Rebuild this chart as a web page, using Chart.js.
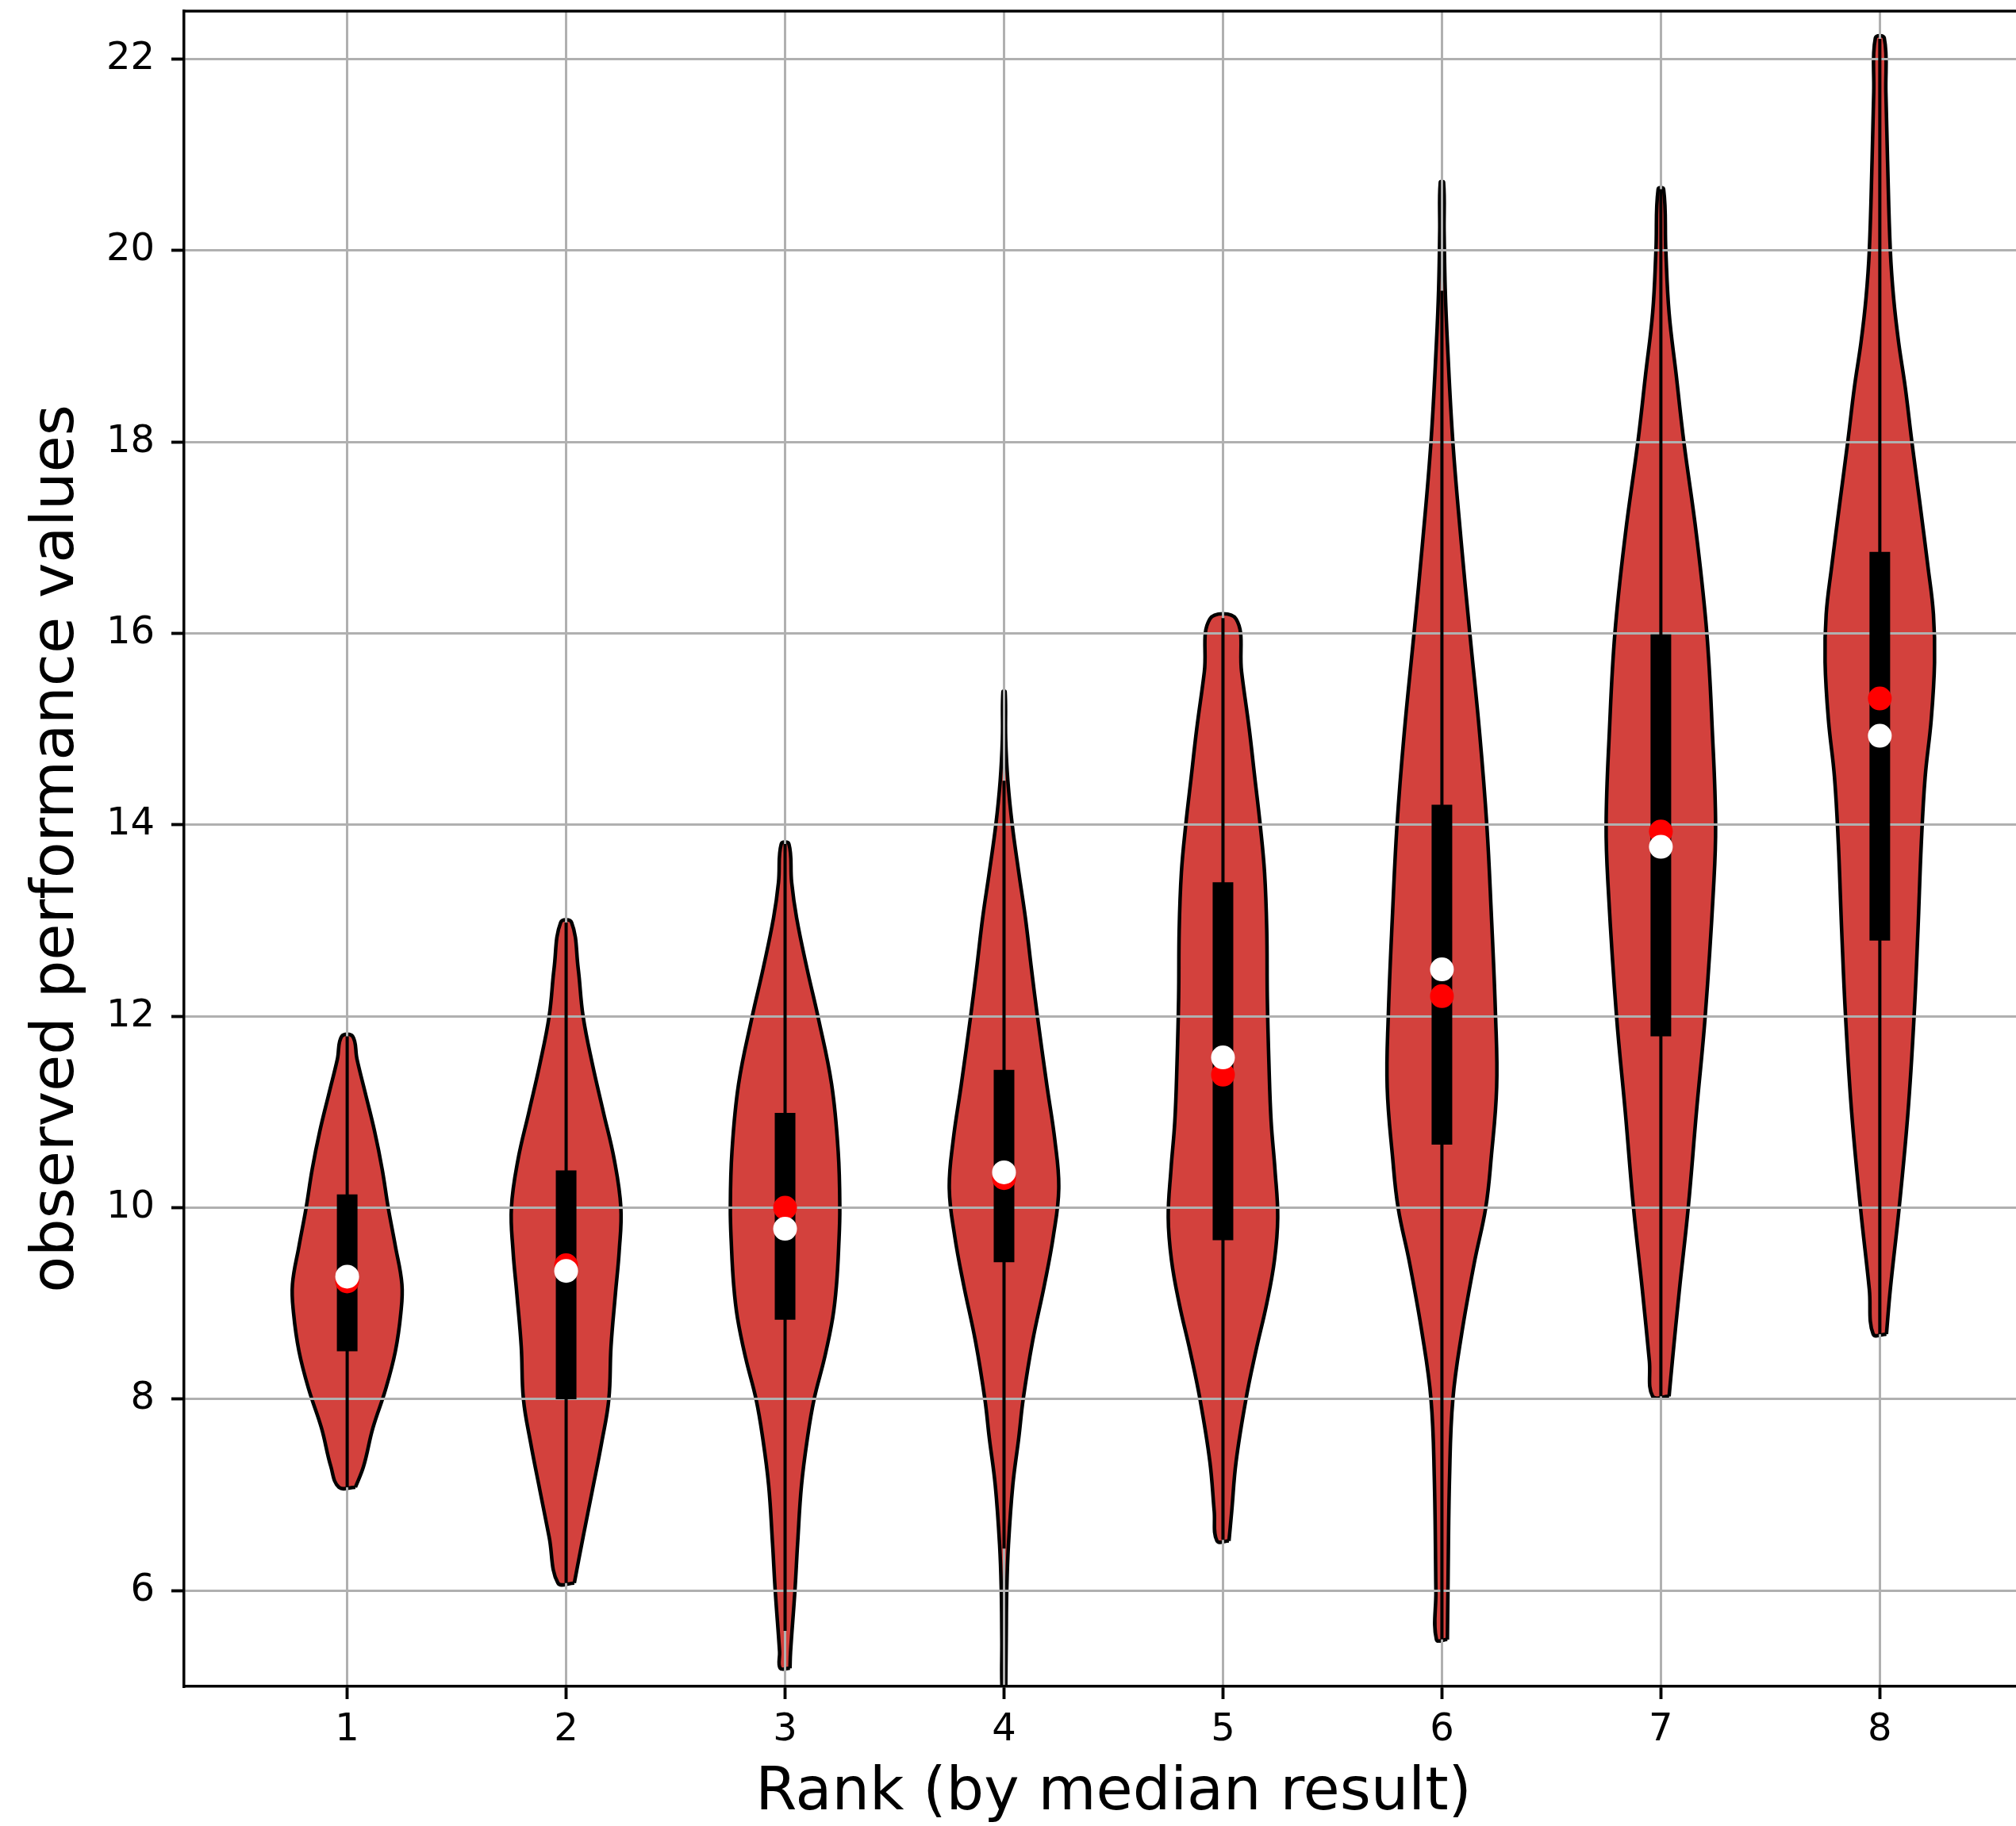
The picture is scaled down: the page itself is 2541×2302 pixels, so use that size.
<!DOCTYPE html>
<html lang="en">
<head>
<meta charset="UTF-8">
<title>Observed performance by rank</title>
<style>
  body { margin: 0; background: #fff; }
  canvas { display: block; }
</style>
</head>
<body>
<canvas id="violins" width="2541" height="2302"></canvas>
<script src="https://cdn.jsdelivr.net/npm/chart.js@4.4.0/dist/chart.umd.min.js"></script>
<script>
const ranks = [1, 2, 3, 4, 5, 6, 7, 8];
const yTicks = [6, 8, 10, 12, 14, 16, 18, 20, 22];

// inner box plot per rank
const q1 = [8.50, 8.00, 8.83, 9.43, 9.66, 10.66, 11.79, 12.79];
const q3 = [10.14, 10.39, 10.99, 11.44, 13.40, 14.21, 15.99, 16.85];
const whiskLo = [7.08, 6.08, 5.58, 6.44, 6.53, 5.49, 8.03, 8.68];
const whiskHi = [11.79, 12.98, 13.80, 14.46, 16.16, 19.58, 20.64, 22.21];
const medians = [9.28, 9.34, 9.78, 10.37, 11.57, 12.49, 13.77, 14.93];
const means = [9.23, 9.40, 10.00, 10.31, 11.39, 12.21, 13.93, 15.32];

// density: [value, relative density], bottom to top
const density1 = [[7.08,0.15],[7.3,0.3],[7.7,0.47],[8.1,0.7],[8.5,0.88],[8.9,0.98],[9.2,1.0],[9.6,0.88],[10.0,0.75],[10.4,0.64],[10.8,0.5],[11.2,0.33],[11.55,0.18],[11.79,0.1]];
const density2 = [[6.08,0.15],[6.56,0.31],[7.05,0.48],[7.55,0.65],[8.0,0.78],[8.55,0.82],[9.1,0.9],[9.55,0.97],[10.0,1.0],[10.5,0.88],[11.0,0.68],[11.5,0.48],[12.0,0.31],[12.5,0.22],[12.98,0.1]];
const density3 = [[5.19,0.09],[5.36,0.1],[6.0,0.18],[6.5,0.23],[7.1,0.3],[7.6,0.41],[8.0,0.53],[8.43,0.72],[8.85,0.87],[9.2,0.94],[9.6,0.98],[10.0,1.0],[10.59,0.97],[11.29,0.85],[12.0,0.6],[12.5,0.4],[13.03,0.21],[13.4,0.12],[13.8,0.07]];
const density4 = [[4.9,0.03],[5.5,0.04],[6.0,0.05],[6.47,0.08],[7.1,0.16],[7.6,0.27],[8.0,0.35],[8.6,0.52],[9.2,0.74],[9.7,0.9],[10.2,1.0],[10.7,0.93],[11.29,0.78],[12.0,0.61],[12.5,0.5],[13.03,0.39],[13.5,0.27],[14.0,0.15],[14.46,0.07],[14.9,0.03],[15.39,0.02]];
const density5 = [[6.52,0.11],[6.83,0.16],[7.35,0.24],[8.0,0.42],[8.5,0.6],[9.0,0.8],[9.45,0.94],[9.9,1.0],[10.4,0.95],[10.9,0.88],[11.5,0.84],[12.2,0.81],[12.9,0.8],[13.5,0.76],[14.0,0.68],[14.5,0.58],[15.0,0.48],[15.6,0.34],[16.15,0.24]];
const density6 = [[5.49,0.1],[6.0,0.11],[7.2,0.14],[8.0,0.2],[8.68,0.36],[9.42,0.59],[10.0,0.8],[10.52,0.9],[11.26,1.0],[12.0,0.98],[13.1,0.9],[14.0,0.82],[14.95,0.69],[16.0,0.51],[16.97,0.35],[18.0,0.2],[19.04,0.1],[19.6,0.06],[20.2,0.04],[20.71,0.03]];
const density7 = [[8.03,0.15],[8.4,0.21],[9.15,0.34],[10.0,0.5],[11.0,0.65],[12.0,0.81],[13.32,0.96],[14.0,1.0],[14.98,0.94],[16.0,0.84],[17.03,0.65],[18.0,0.42],[18.7,0.28],[19.35,0.15],[20.0,0.09],[20.64,0.05]];
const density8 = [[8.68,0.12],[9.15,0.19],[10.0,0.35],[11.0,0.51],[12.0,0.62],[12.9,0.69],[13.8,0.75],[14.5,0.82],[15.1,0.93],[15.7,0.99],[16.2,0.97],[16.7,0.87],[17.38,0.72],[18.0,0.58],[18.57,0.46],[19.04,0.34],[19.5,0.25],[20.0,0.19],[20.94,0.14],[21.65,0.11],[22.22,0.08]];
const densities = [density1, density2, density3, density4, density5, density6, density7, density8];

Chart.defaults.font.family = 'DejaVu Sans';
Chart.defaults.color = '#000';

// closed outline of one violin, widest point = 0.25 of a rank
function outline(rank, profile) {
  const peak = Math.max(...profile.map(p => p[1]));
  const half = d => 0.25 * d / peak;
  const right = profile.map(([v, d]) => ({x: rank + half(d), y: v}));
  const left = profile.slice().reverse().map(([v, d]) => ({x: rank - half(d), y: v}));
  return right.concat(left, [right[0]]);
}

function segments(lo, hi) {
  return ranks.flatMap((r, i) => [{x: r, y: lo[i]}, {x: r, y: hi[i]}, {x: r, y: null}]);
}

const violinSets = ranks.map((r, i) => ({
  label: 'violin ' + r,
  data: outline(r, densities[i]),
  fill: 'shape',
  backgroundColor: '#d3413d',
  borderColor: '#000',
  borderWidth: 4.5,
  borderJoinStyle: 'round',
  tension: 0.4,
  pointRadius: 0,
  order: 4
}));

// matplotlib puts the grid above the violins but below the box plot
const gridOverViolins = {
  id: 'gridOverViolins',
  beforeDatasetDraw(chart, args) {
    if (chart.data.datasets[args.index].label !== 'whiskers') return;
    chart.scales.x.drawGrid(chart.chartArea);
    chart.scales.y.drawGrid(chart.chartArea);
  }
};

// the original axes run past the right edge of the image; centre the x title on that full width
const axesFrame = {
  id: 'axesFrame',
  afterLayout(chart) {
    chart.scales.x.right += 34;
  },
  afterDraw(chart) {
    const {ctx, chartArea} = chart;
    ctx.save();
    ctx.strokeStyle = '#000';
    ctx.lineWidth = 3.5;
    ctx.beginPath();
    ctx.moveTo(chartArea.left - 1.75, chartArea.top);
    ctx.lineTo(chartArea.right, chartArea.top);
    ctx.stroke();
    ctx.restore();
  }
};

new Chart(document.getElementById('violins'), {
  type: 'line',
  data: {
    datasets: [
      {
        label: 'median',
        data: ranks.map((r, i) => ({x: r, y: medians[i]})),
        showLine: false,
        pointRadius: 15,
        pointBackgroundColor: '#fff',
        pointBorderWidth: 0,
        order: 0
      },
      {
        label: 'mean',
        data: ranks.map((r, i) => ({x: r, y: means[i]})),
        showLine: false,
        pointRadius: 15,
        pointBackgroundColor: '#ff0000',
        pointBorderWidth: 0,
        order: 1
      },
      {
        label: 'boxes',
        data: segments(q1, q3),
        borderColor: '#000',
        borderWidth: 26,
        borderCapStyle: 'butt',
        pointRadius: 0,
        order: 2
      },
      {
        label: 'whiskers',
        data: segments(whiskLo, whiskHi),
        borderColor: '#000',
        borderWidth: 4,
        borderCapStyle: 'butt',
        pointRadius: 0,
        order: 3
      },
      ...violinSets
    ]
  },
  options: {
    responsive: false,
    devicePixelRatio: 1,
    animation: false,
    events: [],
    layout: {
      autoPadding: false,
      padding: {top: 14, right: 0, bottom: 0, left: 0}
    },
    plugins: {
      legend: {display: false},
      tooltip: {enabled: false}
    },
    scales: {
      x: {
        type: 'linear',
        min: 0.255,
        max: 8.622,
        afterBuildTicks: s => { s.ticks = ranks.map(v => ({value: v})); },
        afterFit: s => { s.height = 176; s.paddingLeft = 0; s.paddingRight = 0; },
        grid: {color: '#b0b0b0', lineWidth: 3, tickColor: '#000', tickWidth: 3.5, tickLength: 16},
        border: {color: '#000', width: 3.5, z: 1},
        ticks: {font: {size: 48}, padding: 11, maxRotation: 0, autoSkip: false},
        title: {display: true, text: 'Rank (by median result)', font: {size: 75, lineHeight: 1}, padding: {top: 0, bottom: 3}}
      },
      y: {
        type: 'linear',
        min: 5,
        max: 22.5,
        afterBuildTicks: s => { s.ticks = yTicks.map(v => ({value: v})); },
        afterFit: s => { s.width = 232; s.paddingTop = 0; s.paddingBottom = 0; },
        grid: {color: '#b0b0b0', lineWidth: 3, tickColor: '#000', tickWidth: 3.5, tickLength: 16},
        border: {color: '#000', width: 3.5, z: 1},
        ticks: {font: {size: 48}, padding: 21, autoSkip: false},
        title: {display: true, text: 'observed performance values', font: {size: 75, lineHeight: 1}, padding: {top: 35, bottom: 0}}
      }
    }
  },
  plugins: [gridOverViolins, axesFrame]
});
</script>
</body>
</html>
